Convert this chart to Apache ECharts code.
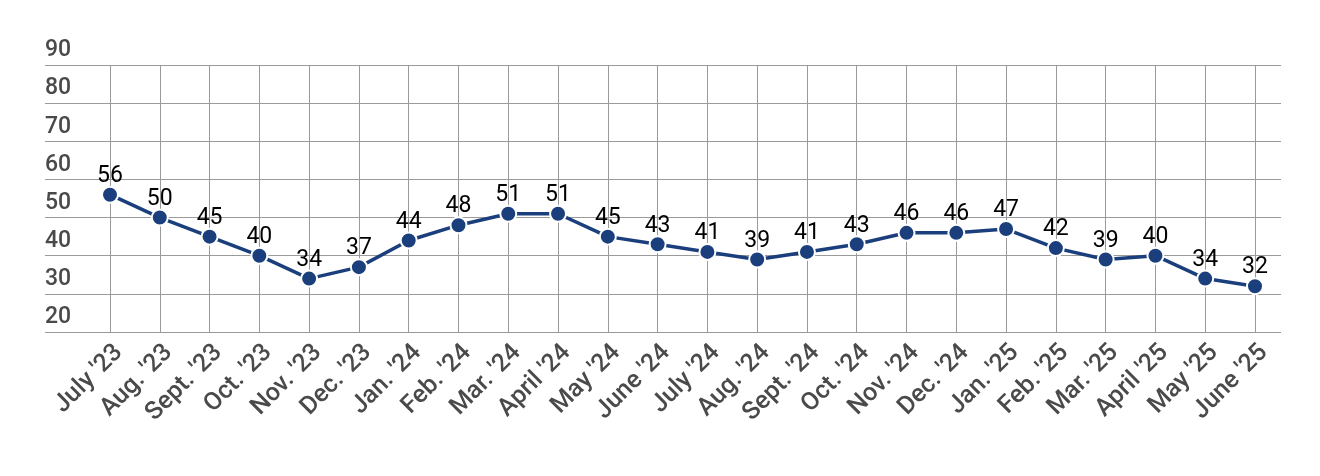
<!DOCTYPE html>
<html>
<head>
<meta charset="utf-8">
<script src="https://cdn.jsdelivr.net/npm/echarts@6/dist/echarts.min.js"></script>
<style>
html,body{margin:0;padding:0;background:#fff;}
#chart{width:1320px;height:476px;}
</style>
</head>
<body>
<div id="chart"></div>
<script>
const categories = ["July '23","Aug. '23","Sept. '23","Oct. '23","Nov. '23","Dec. '23","Jan. '24","Feb. '24","Mar. '24","April '24","May '24","June '24","July '24","Aug. '24","Sept. '24","Oct. '24","Nov. '24","Dec. '24","Jan. '25","Feb. '25","Mar. '25","April '25","May '25","June '25"];
const values = [56,50,45,40,34,37,44,48,51,51,45,43,41,39,41,43,46,46,47,42,39,40,34,32];
const yMin = 20, yMax = 90, yStep = 10;

const chart = echarts.init(document.getElementById('chart'), null, {renderer:'canvas'});
const font = 'Roboto, "Noto Sans", sans-serif';
chart.setOption({
  animation:false,
  backgroundColor:'#fff',
  grid:[
    {left:45, right:39, top:65, bottom:144},
    {left:110, right:65, top:65, bottom:144}
  ],
  xAxis:[
    {gridIndex:0, type:'value', show:false, min:0, max:1},
    {gridIndex:1, type:'category', data:categories, boundaryGap:false,
     axisLine:{show:false}, axisTick:{show:false},
     splitLine:{show:true, lineStyle:{color:'#9a9a9a', width:1}},
     axisLabel:{rotate:45, verticalAlign:'top', color:'#4a4a4a', fontFamily:font, fontSize:25, fontWeight:500, margin:8, interval:0}}
  ],
  yAxis:[
    {gridIndex:0, type:'value', min:yMin, max:yMax, interval:yStep,
     axisLine:{show:false}, axisTick:{show:false},
     splitLine:{show:true, lineStyle:{color:'#9a9a9a', width:1}},
     axisLabel:{inside:true, align:'left', verticalAlign:'bottom', margin:0, padding:[0,0,3,0],
       color:'#4a4a4a', fontFamily:font, fontSize:23, fontWeight:500}},
    {gridIndex:1, type:'value', min:yMin, max:yMax, interval:yStep, show:false}
  ],
  series:[{
    type:'line', xAxisIndex:1, yAxisIndex:1, data:values,
    symbol:'circle', symbolSize:16,
    lineStyle:{color:'#1b3f7c', width:3.5},
    itemStyle:{color:'#1b3f7c', borderColor:'#fff', borderWidth:2},
    label:{show:true, position:'top', distance:-2, color:'#000', fontFamily:font, fontSize:23}
  }]
});
</script>
</body>
</html>
